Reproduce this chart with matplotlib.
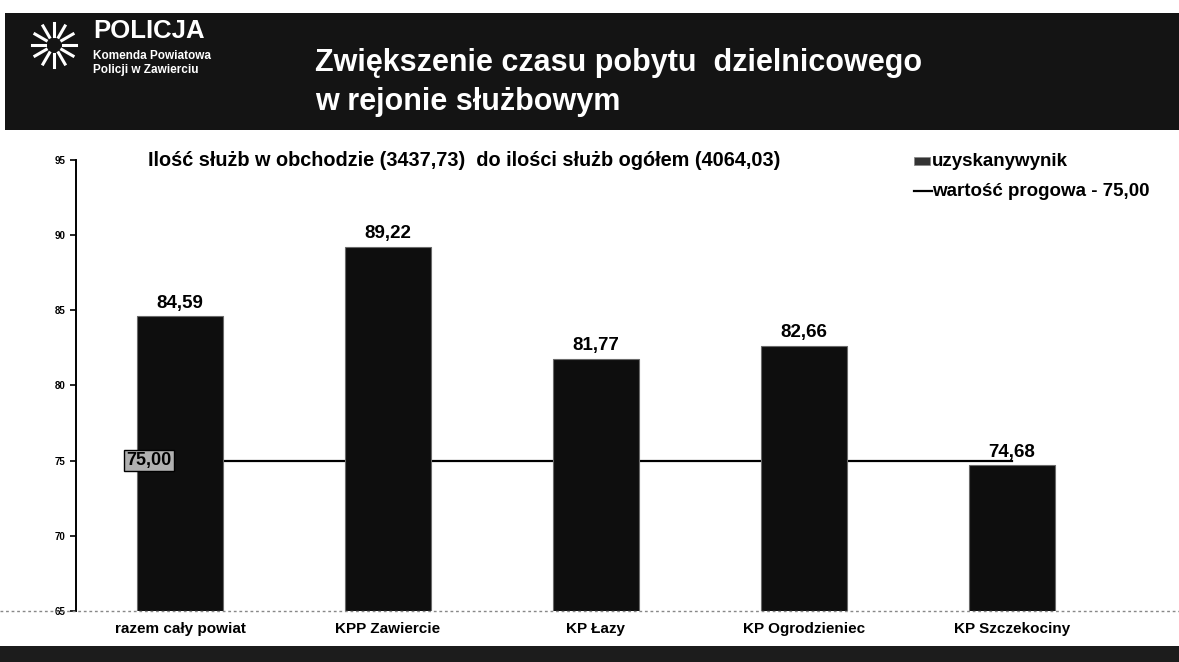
import numpy as np
import matplotlib.pyplot as plt
from matplotlib.patches import Rectangle

# data
categories = ['razem cały powiat', 'KPP Zawiercie', 'KP Łazy', 'KP Ogrodzieniec', 'KP Szczekociny']
wynik = [84.59, 89.22, 81.77, 82.66, 74.68]
wynik_labels = ['84,59', '89,22', '81,77', '82,66', '74,68']
prog = [75.00, 75.00, 75.00, 75.00, 75.00]
yticks = [65, 70, 75, 80, 85, 90, 95]

plt.rcParams['font.family'] = ['Liberation Sans', 'DejaVu Sans']

fig = plt.figure(figsize=(11.79, 6.62), dpi=100)
fig.patch.set_facecolor('white')

# header band
W, H = 1179, 662
fig.patches.append(Rectangle((5 / W, 1 - 130 / H), 1 - 5 / W, 117 / H,
                             transform=fig.transFigure, facecolor='#141414',
                             edgecolor='none', zorder=0))
# bottom band
fig.patches.append(Rectangle((0, 0), 1, 16 / H, transform=fig.transFigure,
                             facecolor='#1c1c1c', edgecolor='none', zorder=0))

# simple emblem
cx, cy = 54 / W, 1 - 45 / H
for ang in np.arange(0, 360, 30):
    a = np.deg2rad(ang)
    fig.add_artist(plt.Line2D([cx + 9 / W * np.cos(a), cx + 22 / W * np.cos(a)],
                              [cy + 9 / H * np.sin(a), cy + 22 / H * np.sin(a)],
                              transform=fig.transFigure, color='white', lw=2.2))

fig.text(93 / W, 1 - 31 / H, 'POLICJA', color='white', fontsize=18.5, fontweight='bold', va='center')
fig.text(93 / W, 1 - 56 / H, 'Komenda Powiatowa', color='white', fontsize=8.5, fontweight='bold', va='center')
fig.text(93 / W, 1 - 70 / H, 'Policji w Zawierciu', color='white', fontsize=8.5, fontweight='bold', va='center')
fig.text(315 / W, 1 - 63 / H, 'Zwiększenie czasu pobytu  dzielnicowego', color='white',
         fontsize=22, fontweight='bold', va='center')
fig.text(315 / W, 1 - 102 / H, 'w rejonie służbowym', color='white',
         fontsize=22, fontweight='bold', va='center')

ax = fig.add_axes([76 / W, 1 - 611 / H, 1040 / W, 451 / H])
x = np.arange(len(categories))

ax.plot(x, prog, color='black', lw=1.6, zorder=1)
bars = ax.bar(x, wynik, width=0.41, color='#0e0e0e', edgecolor='#6a6a6a', lw=0.8, zorder=2)
for xi, v, lab in zip(x, wynik, wynik_labels):
    ax.text(xi, v + 0.3, lab, ha='center', va='bottom', fontsize=13.5, fontweight='bold')

ax.text(x[0] - 0.15, prog[0], '75,00', ha='center', va='center', fontsize=13,
        fontweight='bold', zorder=4,
        bbox=dict(boxstyle='square,pad=0.12', facecolor='#b0b0b0', edgecolor='black', lw=1))

ax.set_xlim(-0.5, len(categories) - 0.5)
ax.set_ylim(65, 95)
ax.set_yticks(yticks)
ax.set_yticklabels([str(t) for t in yticks], fontsize=7, fontweight='bold')
ax.set_xticks(x)
ax.set_xticklabels(categories, fontsize=11, fontweight='bold')
ax.tick_params(axis='x', length=0, pad=8)
ax.tick_params(axis='y', length=4, width=1.2, direction='out')
for s in ['top', 'right', 'bottom']:
    ax.spines[s].set_visible(False)
ax.spines['left'].set_linewidth(1.4)
ax.patch.set_alpha(0)

# dotted baseline across the slide
fig.add_artist(plt.Line2D([0, 1], [1 - 611 / H, 1 - 611 / H], transform=fig.transFigure,
                          color='#888888', lw=1, ls=(0, (2, 2)), zorder=1))

fig.text(148 / W, 1 - 160 / H,
         'Ilość służb w obchodzie (3437,73)  do ilości służb ogółem (4064,03)',
         fontsize=14.3, fontweight='bold', va='center')

# legend
fig.patches.append(Rectangle((914 / W, 1 - 165 / H), 16 / W, 8 / H, transform=fig.transFigure,
                             facecolor='#333333', edgecolor='#888888', lw=0.6))
fig.text(932 / W, 1 - 161 / H, 'uzyskanywynik', fontsize=13.5, fontweight='bold', va='center')
fig.add_artist(plt.Line2D([914 / W, 932 / W], [1 - 191 / H, 1 - 191 / H],
                          transform=fig.transFigure, color='black', lw=1.6))
fig.text(932 / W, 1 - 191 / H, 'wartość progowa - 75,00', fontsize=13.5, fontweight='bold', va='center')

fig.savefig('out.png', dpi=100)
